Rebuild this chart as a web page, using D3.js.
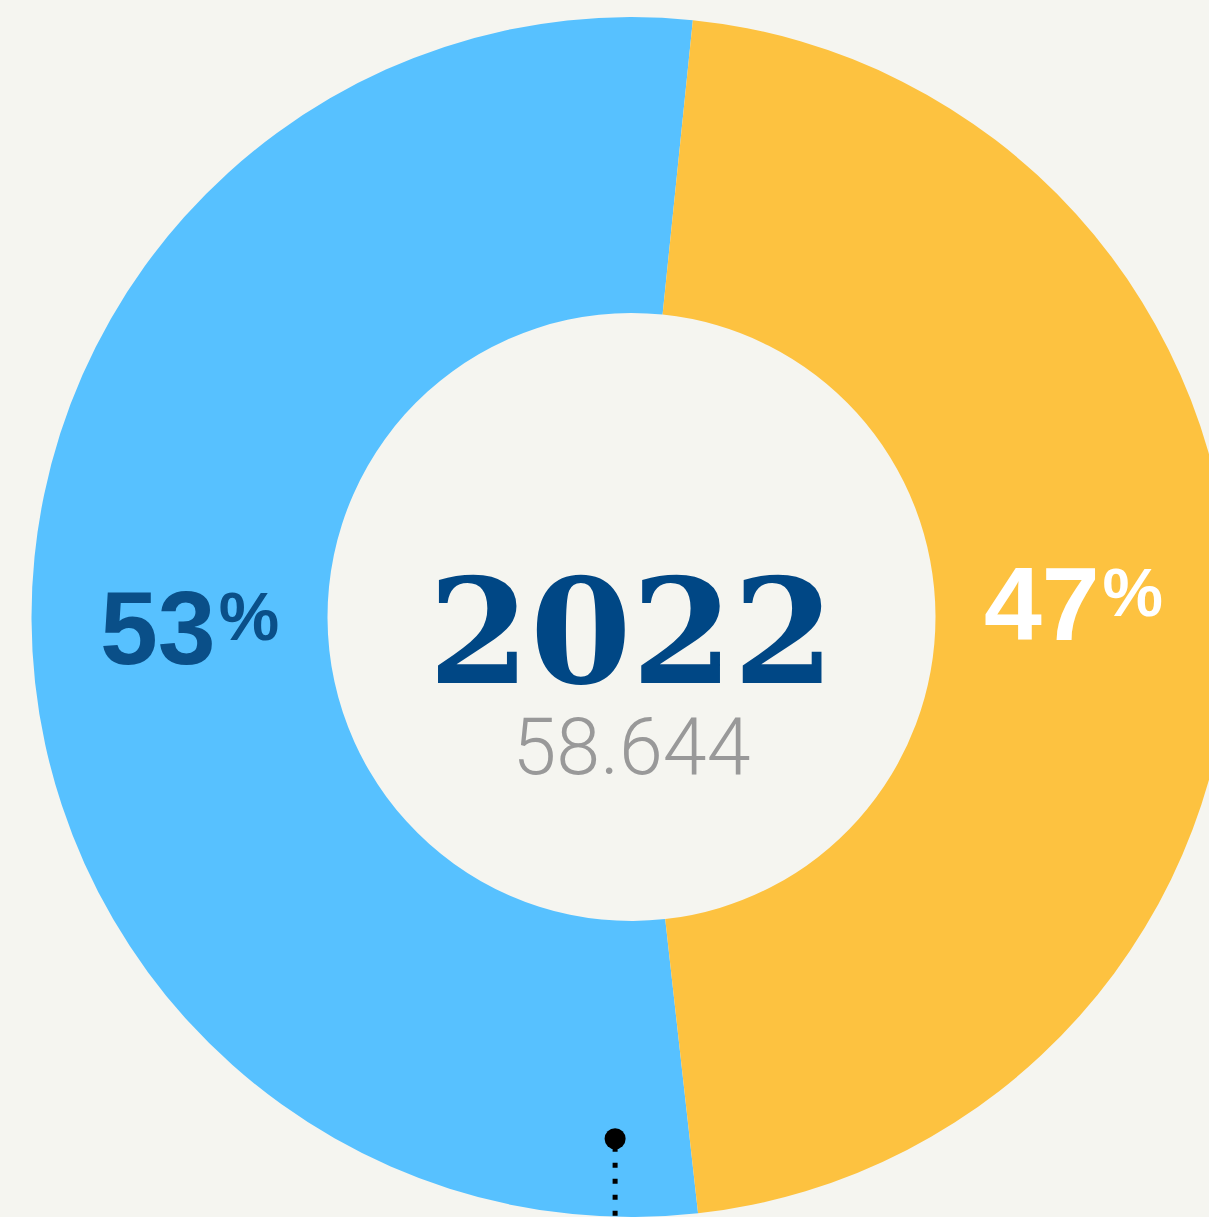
<!DOCTYPE html>
<meta charset="utf-8">
<style>
body { margin:0; background:#f5f5f0; }
svg { display:block; }
</style>
<body>
<svg width="1209" height="1217" id="vis"></svg>
</body>
<script src="https://d3js.org/d3.v7.min.js"></script>
<script>
// shares (labels are rounded)
var groups = ["blau", "gelb"];
var shares = [53.4, 46.6];
var colours = ["#57c1ff", "#fdc240"];
var labelColours = ["#0a4f88", "#ffffff"];
var year = "2022";
var total = "58.644";

var svg = d3.select("svg"),
    cx = 631.5, cy = 617,
    outerR = 600, innerR = 304;

var data = groups.map(function(g, i) { return {group: g, share: shares[i]}; });

// yellow slice starts just right of 12 o'clock
var yellowStart = 5.87 * Math.PI / 180;
var blueAngle = shares[0] / d3.sum(shares) * 2 * Math.PI;

var pie = d3.pie()
    .sort(null)
    .value(function(d) { return d.share; })
    .startAngle(yellowStart - blueAngle)
    .endAngle(yellowStart - blueAngle + 2 * Math.PI);

var arc = d3.arc().innerRadius(innerR).outerRadius(outerR);

var g = svg.append("g")
    .attr("transform", "translate(" + cx + "," + cy + ")");

var arcs = pie(data);

g.selectAll("path.slice").data(arcs).enter().append("path")
    .attr("class", "slice")
    .attr("d", arc)
    .style("fill", function(d, i) { return colours[i]; });

// percentage labels
var labelArc = d3.arc().innerRadius(442).outerRadius(442);
var labelShift = [45, 25];

var labels = g.selectAll("text.pct").data(arcs).enter().append("text")
    .attr("class", "pct")
    .attr("text-anchor", "middle")
    .attr("x", function(d) { return labelArc.centroid(d)[0]; })
    .attr("y", function(d, i) { return labelArc.centroid(d)[1] + labelShift[i]; })
    .style("fill", function(d, i) { return labelColours[i]; })
    .style("font-family", "'Liberation Sans', Arial, sans-serif")
    .style("font-weight", "bold");

labels.append("tspan")
    .style("font-size", "104px")
    .text(function(d) { return Math.round(d.data.share / d3.sum(shares) * 100); });

labels.append("tspan")
    .attr("dy", "-24")
    .attr("dx", "3")
    .style("font-size", "68px")
    .text("%");

// centre text
g.append("text")
    .attr("text-anchor", "middle")
    .attr("y", 66)
    .style("font-family", "'DejaVu Serif', serif")
    .style("font-weight", "bold")
    .style("font-size", "146px")
    .style("fill", "#004785")
    .text(year);

g.append("text")
    .attr("text-anchor", "middle")
    .attr("y", 157)
    .style("font-family", "Roboto, sans-serif")
    .style("font-weight", "300")
    .style("font-size", "79px")
    .style("fill", "#999999")
    .text(total);

// annotation pointer at the bottom
var pointer = {angle: 181.8 * Math.PI / 180, r: 522};
var px = Math.sin(pointer.angle) * pointer.r,
    py = -Math.cos(pointer.angle) * pointer.r;

g.append("line")
    .attr("x1", px).attr("y1", py + 8)
    .attr("x2", px).attr("y2", outerR + 10)
    .style("stroke", "#000")
    .style("stroke-width", 5)
    .style("stroke-dasharray", "5,11");

g.append("circle")
    .attr("cx", px).attr("cy", py)
    .attr("r", 10.5)
    .style("fill", "#000");
</script>
